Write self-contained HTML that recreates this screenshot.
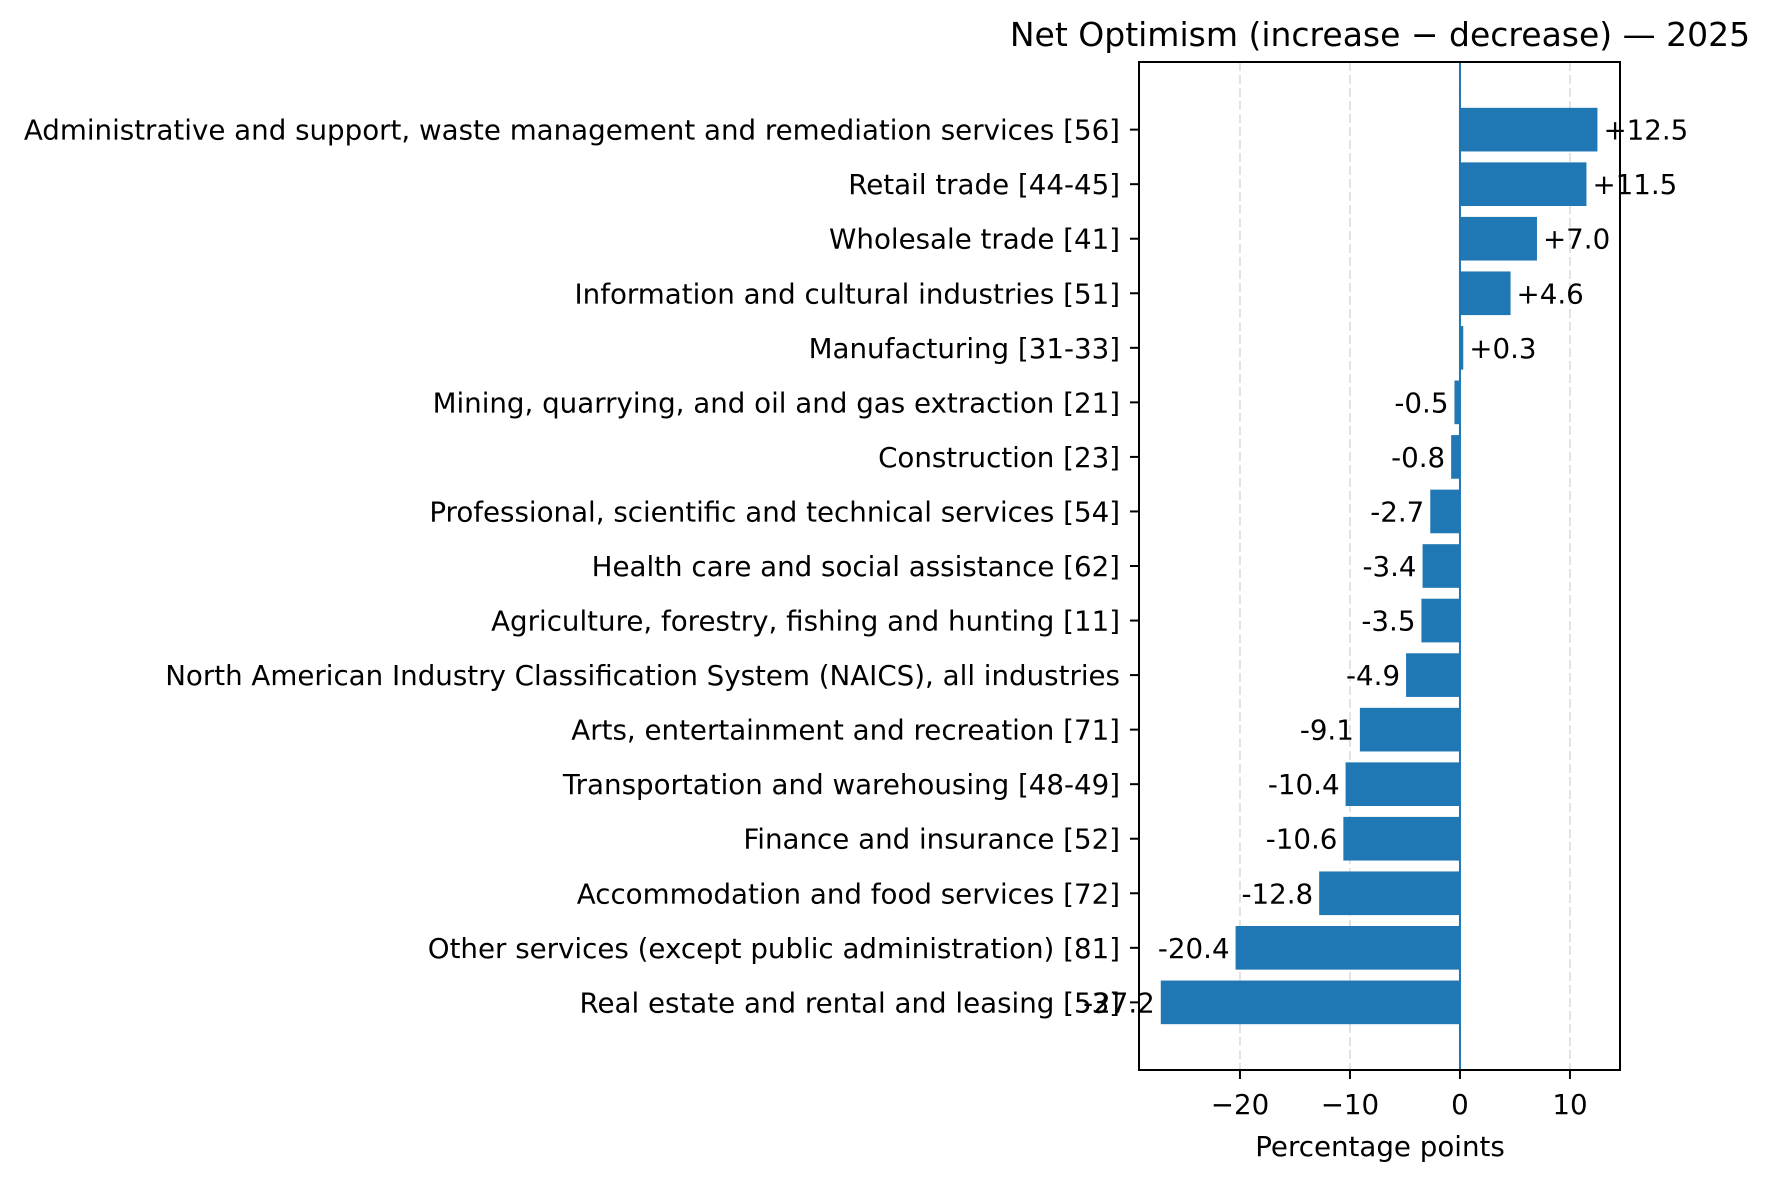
<!DOCTYPE html>
<html><head><meta charset="utf-8"><style>
html,body{margin:0;padding:0;background:#fff;}
svg{display:block;font-family:"DejaVu Sans","Liberation Sans",sans-serif;}
</style></head><body>
<svg id="chart" width="1773" height="1177" viewBox="0 0 1773 1177" xmlns="http://www.w3.org/2000/svg">
<rect x="0" y="0" width="1773" height="1177" fill="#fff"/>
<text x="1380" y="46" font-size="33" text-anchor="middle" fill="#000">Net Optimism (increase − decrease) — 2025</text>
<g id="grid"></g>
<g id="bars"></g>
<g id="labels"></g>
<g id="axes"></g>
<text x="1380" y="1156" font-size="27.7" text-anchor="middle" fill="#000">Percentage points</text>
</svg>
<script>
const categories = [
"Administrative and support, waste management and remediation services [56]",
"Retail trade [44-45]",
"Wholesale trade [41]",
"Information and cultural industries [51]",
"Manufacturing [31-33]",
"Mining, quarrying, and oil and gas extraction [21]",
"Construction [23]",
"Professional, scientific and technical services [54]",
"Health care and social assistance [62]",
"Agriculture, forestry, fishing and hunting [11]",
"North American Industry Classification System (NAICS), all industries",
"Arts, entertainment and recreation [71]",
"Transportation and warehousing [48-49]",
"Finance and insurance [52]",
"Accommodation and food services [72]",
"Other services (except public administration) [81]",
"Real estate and rental and leasing [53]"
];
const values = [12.5, 11.5, 7.0, 4.6, 0.3, -0.5, -0.8, -2.7, -3.4, -3.5, -4.9, -9.1, -10.4, -10.6, -12.8, -20.4, -27.2];
const xTicks = [-20, -10, 0, 10];
const xTickLabels = ["−20", "−10", "0", "10"];

const NS = "http://www.w3.org/2000/svg";
const L = 1139, R = 1620, T = 62, B = 1070;
const xMin = -29.18, xMax = 14.55;
const yMin = -1.24, yMax = values.length - 1 + 1.24;
const FS = 27.7;
function xs(v){ return L + (v - xMin) / (xMax - xMin) * (R - L); }
function ys(i){ return T + (i - yMin) / (yMax - yMin) * (B - T); }
const bh = 0.8 * (B - T) / (yMax - yMin);
function mk(tag, attrs, parent){ const e = document.createElementNS(NS, tag); for (const k in attrs) e.setAttribute(k, attrs[k]); parent.appendChild(e); return e; }
const grid = document.getElementById('grid'), bars = document.getElementById('bars'), labels = document.getElementById('labels'), axes = document.getElementById('axes');

xTicks.forEach((t, i) => {
  const g = mk('line', {x1: xs(t), x2: xs(t), y1: T, y2: B, stroke: '#b0b0b0', 'stroke-opacity': 0.35, 'stroke-width': 2, 'stroke-dasharray': '9,4'}, grid);
  
  
  const tk = mk('line', {x1: xs(t), x2: xs(t), y1: B, y2: B + 9, stroke: '#000', 'stroke-width': 2}, axes);
  
  
  const tl = mk('text', {x: xs(t), y: 1114, 'font-size': FS, 'text-anchor': 'middle', fill: '#000'}, axes);
  tl.textContent = xTickLabels[i];
  
  
});

values.forEach((v, i) => {
  const y = ys(i);
  const x0 = xs(0), x1 = xs(v);
  const b = mk('rect', {x: Math.min(x0, x1), y: y - bh / 2, width: Math.abs(x1 - x0), height: bh, fill: '#1f77b4'}, bars);
  
  
  const vl = mk('text', {x: v >= 0 ? x1 + 6 : x1 - 6, y: y + 10, 'font-size': FS, 'text-anchor': v >= 0 ? 'start' : 'end', fill: '#000'}, labels);
  vl.textContent = (v >= 0 ? '+' : '') + v.toFixed(1);
  
  
  const tk = mk('line', {x1: L - 9, x2: L, y1: y, y2: y, stroke: '#000', 'stroke-width': 2}, axes);
  
  
  const cl = mk('text', {x: 1120, y: y + 10, 'font-size': FS, 'text-anchor': 'end', fill: '#000'}, axes);
  cl.textContent = categories[i];
  
  
});

const zl = mk('line', {x1: xs(0), x2: xs(0), y1: T, y2: B, stroke: '#1f77b4', 'stroke-width': 2}, bars);


const fr = mk('rect', {x: L, y: T, width: R - L, height: B - T, fill: 'none', stroke: '#000', 'stroke-width': 2}, axes);


</script>
</body></html>
